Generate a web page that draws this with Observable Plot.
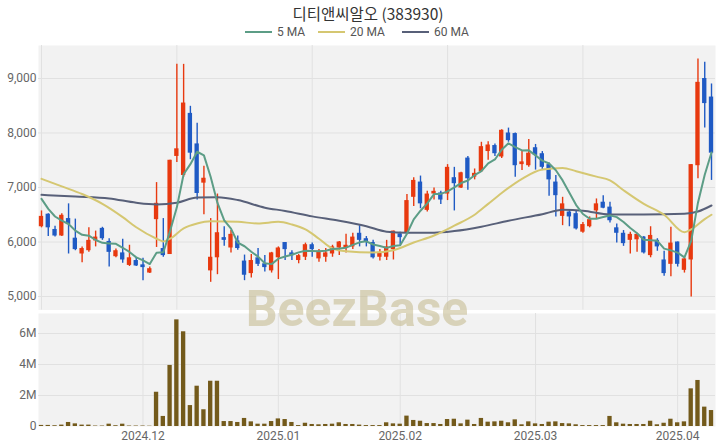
<!DOCTYPE html>
<html><head><meta charset="utf-8">
<script src="https://cdn.jsdelivr.net/npm/d3@7"></script>
<script src="https://cdn.jsdelivr.net/npm/@observablehq/plot@0.6"></script>
<style>
body{margin:0;background:#fff;}
#wrap{position:relative;width:720px;height:448px;overflow:hidden;font-family:Roboto,"Noto Sans CJK KR",sans-serif;}
#price,#vol,#over{position:absolute;left:0;}
#price{top:0;} #vol{top:312px;} #over{top:0;z-index:5;pointer-events:none;}
</style></head>
<body><div id="wrap"><div id="price"></div><div id="vol"></div><div id="over"></div></div>
<script>
const dates = [
"2024-11-11","2024-11-12","2024-11-13","2024-11-14","2024-11-15","2024-11-18","2024-11-19","2024-11-20","2024-11-21","2024-11-22","2024-11-25","2024-11-26","2024-11-27","2024-11-28","2024-11-29",
"2024-12-02","2024-12-03","2024-12-04","2024-12-05","2024-12-06","2024-12-09","2024-12-10","2024-12-11","2024-12-12","2024-12-13","2024-12-16","2024-12-17","2024-12-18","2024-12-19","2024-12-20","2024-12-23","2024-12-24","2024-12-26","2024-12-27","2024-12-30",
"2025-01-02","2025-01-03","2025-01-06","2025-01-07","2025-01-08","2025-01-09","2025-01-10","2025-01-13","2025-01-14","2025-01-15","2025-01-16","2025-01-17","2025-01-20","2025-01-21","2025-01-22","2025-01-23","2025-01-24","2025-01-31",
"2025-02-03","2025-02-04","2025-02-05","2025-02-06","2025-02-07","2025-02-10","2025-02-11","2025-02-12","2025-02-13","2025-02-14","2025-02-17","2025-02-18","2025-02-19","2025-02-20","2025-02-21","2025-02-24","2025-02-25","2025-02-26","2025-02-27","2025-02-28",
"2025-03-03","2025-03-04","2025-03-05","2025-03-06","2025-03-07","2025-03-10","2025-03-11","2025-03-12","2025-03-13","2025-03-14","2025-03-17","2025-03-18","2025-03-19","2025-03-20","2025-03-21","2025-03-24","2025-03-25","2025-03-26","2025-03-27","2025-03-28","2025-03-31",
"2025-04-01","2025-04-02","2025-04-03","2025-04-04","2025-04-07","2025-04-08"];

const open = [6280,6510,6230,6110,6430,6070,5780,5840,6020,6250,6010,5730,5800,5570,5660,5580,5430,6410,5880,5770,
7570,7220,8360,7800,7080,5470,5710,6080,5890,6020,5650,5420,5710,5600,5470,5710,5990,5800,5660,5720,
5950,5690,5720,5780,5890,5880,5910,6160,6060,5990,5720,5720,5860,6150,6160,6820,7100,6580,6880,6900,
6880,7180,6990,7540,7190,7290,7660,7770,7560,8000,7990,7420,7400,7730,7620,7420,7100,6470,6550,6520,
6180,6280,6570,6730,6640,6260,6160,6030,6040,6090,5750,6030,5670,5590,6000,5480,5670,7400,9000,8660];
const high = [6570,6520,6290,6520,6700,6420,5910,6260,6200,6270,6060,5870,6050,5940,5710,5700,5540,7090,6430,7500,
9260,9260,8490,8180,7390,6430,6880,6280,6210,6110,5760,5770,5880,5750,5810,5910,5990,5840,5770,5980,
5980,5860,5880,5940,6010,6140,6160,6300,6100,6030,5860,6030,6200,6180,6870,7180,7210,6930,6990,6930,
7420,7370,7280,7570,7340,7830,7840,7800,8060,8090,8000,7680,7880,7790,7660,7450,7220,6820,6590,6580,
6360,6460,6790,6850,6730,6330,6210,6180,6160,6100,6280,6060,5830,6270,6000,5730,7420,9360,9300,8900];
const low = [6260,6100,6090,6100,5780,5840,5620,5810,5910,6030,5540,5710,5610,5550,5550,5290,5420,5900,5720,5770,
7460,7190,7510,6770,6500,5260,5400,5920,5800,5850,5290,5340,5550,5450,5430,5310,5660,5660,5600,5660,
5720,5630,5630,5720,5750,5800,5860,5910,5910,5690,5650,5660,5670,5940,6150,6650,6610,6550,6770,6690,
6760,6570,6980,6950,7140,7280,7500,7570,7530,7830,7190,7310,7370,7320,7310,6840,6460,6300,6280,6220,
6160,6260,6430,6610,6350,5980,5920,5780,5810,5780,5710,5830,5370,5360,5540,5430,4990,7160,8090,7130];
const close = [6470,6260,6110,6490,6320,5860,5880,6030,6090,6060,5810,5840,5670,5710,5560,5530,5510,6710,5750,7500,
7710,8550,7630,6890,7170,5720,6170,6030,6140,5880,5390,5660,5590,5530,5800,5890,5860,5750,5750,5950,
5860,5830,5800,5910,6000,5940,6090,6030,6000,5710,5810,5910,6200,6080,6760,7130,6700,6880,6930,6770,
7370,7070,7270,7160,7260,7750,7780,7620,8050,7860,7400,7470,7630,7590,7370,7140,6850,6700,6460,6240,
6320,6410,6700,6620,6390,6160,5970,6140,6140,5800,6120,5910,5420,5980,5590,5690,7420,8930,8540,7630];
const volume = [0.07,0.07,0.05,0.09,0.26,0.17,0.09,0.09,0.03,0.03,0.15,0.05,0.15,0.03,0.03,0.03,0.02,2.21,0.65,3.94,
6.88,6.11,1.35,2.60,1.08,2.92,2.92,0.32,0.32,0.26,0.52,0.30,0.15,0.15,0.32,0.49,0.45,0.26,0.06,0.21,
0.13,0.11,0.13,0.15,0.24,0.13,0.13,0.09,0.06,0.06,0.06,0.24,0.17,0.15,0.67,0.39,0.34,0.19,0.19,0.13,
0.45,0.47,0.17,0.41,0.13,0.52,0.28,0.30,0.34,0.24,0.43,0.11,0.30,0.17,0.13,0.28,0.30,0.19,0.17,0.11,
0.06,0.06,0.06,0.06,0.65,0.24,0.15,0.13,0.13,0.13,0.34,0.11,0.21,0.47,0.24,0.30,2.43,2.97,1.25,1.03].map(v => v * 1e6);
// closes of the four sessions before the first date (for the 5-day average)
const prevClose = [7180, 6810, 6860, 6640];
// 20-day and 60-day moving averages at selected sessions
const ma20Idx = [0,3,6,9,12,14,17,18,19,21,23,25,29,32,35,37,39,41,43,45,49,52,55,58,61,64,66,68,71,74,77,79,82,84,86,89,92,95,96,98,99];
const ma20Val = [7160,7020,6880,6700,6456,6270,6060,6010,6060,6250,6340,6380,6370,6340,6370,6320,6230,6060,5880,5830,5805,5850,5990,6120,6300,6500,6700,6900,7160,7330,7360,7300,7200,7130,6950,6700,6500,6180,6230,6420,6500];
const ma60Idx = [0,5,10,14,17,20,23,26,29,33,36,40,44,48,51,54,58,61,65,69,74,77,80,84,89,95,97,99];
const ma60Val = [6865,6835,6800,6720,6690,6720,6815,6820,6770,6630,6570,6470,6390,6290,6190,6170,6170,6200,6280,6390,6510,6590,6575,6505,6505,6520,6560,6670];
const priceTicks = [5000,6000,7000,8000,9000];
const volTicks = [0,2e6,4e6,6e6];
const seriesNames = ["5 MA","20 MA","60 MA"];
const seriesColors = ["#5c9d86","#d5c771","#586079"];
const upColor = "#e8390f", downColor = "#1f5ac4", volColor = "#735a1b";

const rows = dates.map((d, i) => ({i, date: d, o: open[i], h: high[i], l: low[i], c: close[i], v: volume[i], up: close[i] >= open[i]}));
const allC = prevClose.concat(close);
const ma5 = close.map((_, i) => ({i, v: d3.mean(allC.slice(i, i + 5))}));
const ma20 = ma20Idx.map((i, k) => ({i, v: ma20Val[k]}));
const ma60 = ma60Idx.map((i, k) => ({i, v: ma60Val[k]}));
const monthIdx = dates.map((d, i) => i).filter(i => i > 0 && dates[i].slice(0, 7) !== dates[i - 1].slice(0, 7));
const monthFmt = i => dates[i].slice(0, 7).replace("-", ".");
const priceGridIdx = d3.range(0, dates.length, 20);

const xDomain = [-0.443, 99.59];
const hw = 0.32;
const gridStyle = {stroke: "#e1e1e1", strokeOpacity: 1, strokeWidth: 1};
const svgStyle = {fontFamily: "Roboto, sans-serif", fontSize: "12px", color: "#666", background: "transparent", overflow: "visible"};

const candleMarks = (data, col) => [
  Plot.ruleX(data, {x: "i", y1: "l", y2: "h", stroke: col, strokeWidth: 1.4}),
  Plot.rect(data, {x1: d => d.i - hw, x2: d => d.i + hw, y1: d => Math.min(d.o, d.c), y2: d => Math.max(d.o, d.c) + (Math.abs(d.o - d.c) < 20 ? 20 : 0), fill: col})
];

const price = Plot.plot({
  width: 720, height: 312, marginLeft: 38, marginRight: 5, marginTop: 45, marginBottom: 2.5,
  style: svgStyle,
  x: {type: "linear", domain: xDomain, axis: null, label: null},
  y: {domain: [4752, 9606], axis: null, label: null},
  marks: [
    Plot.frame({fill: "#f2f2f2", stroke: null}),
    Plot.gridY(priceTicks, gridStyle),
    Plot.gridX(priceGridIdx, gridStyle),
    Plot.axisY(priceTicks, {tickSize: 0, tickPadding: 2, tickFormat: d3.format(","), fontSize: 12, label: null}),
    ...candleMarks(rows.filter(d => d.up), upColor),
    ...candleMarks(rows.filter(d => !d.up), downColor),
    Plot.line(ma60, {x: "i", y: "v", stroke: seriesColors[2], strokeWidth: 2, curve: "monotone-x"}),
    Plot.line(ma20, {x: "i", y: "v", stroke: seriesColors[1], strokeWidth: 2, curve: "monotone-x"}),
    Plot.line(ma5, {x: "i", y: "v", stroke: seriesColors[0], strokeWidth: 2})
  ]
});
document.getElementById("price").append(price);

const vol = Plot.plot({
  width: 720, height: 136, marginLeft: 38, marginRight: 5, marginTop: 1, marginBottom: 22,
  style: svgStyle,
  x: {type: "linear", domain: xDomain, axis: null, label: null},
  y: {domain: [0, 7.29e6], axis: null, label: null},
  marks: [
    Plot.frame({fill: "#f2f2f2", stroke: null}),
    Plot.gridY(volTicks.slice(1), gridStyle),
    Plot.gridX(monthIdx, gridStyle),
    Plot.axisY(volTicks, {tickSize: 0, tickPadding: 2, tickFormat: d => d === 0 ? "0" : (d / 1e6) + "M", fontSize: 12, label: null}),
    Plot.axisX(monthIdx, {tickSize: 0, tickPadding: 5, tickFormat: monthFmt, fontSize: 12, label: null}),
    Plot.rect(rows, {x1: d => d.i - hw, x2: d => d.i + hw, y1: 0, y2: "v", fill: volColor})
  ]
});
document.getElementById("vol").append(vol);

// overlay: title, legend, watermark
const over = d3.select("#over").append("svg").attr("width", 720).attr("height", 448);
over.append("text").attr("x", 368).attr("y", 19.5).attr("text-anchor", "middle")
  .attr("font-family", "'Noto Sans CJK KR', sans-serif").attr("font-size", 15.5).attr("fill", "#333")
  .text("디티앤씨알오 (383930)");
const legX = [245, 318, 402];
seriesNames.forEach((name, k) => {
  over.append("line").attr("x1", legX[k]).attr("x2", legX[k] + 27).attr("y1", 32).attr("y2", 32)
    .attr("stroke", seriesColors[k]).attr("stroke-width", 2);
  over.append("text").attr("x", legX[k] + 32).attr("y", 36).attr("font-family", "Roboto, sans-serif")
    .attr("font-size", 12).attr("fill", "#555").text(name);
});
over.append("text").attr("x", 357).attr("y", 326).attr("text-anchor", "middle")
  .attr("font-family", "Roboto, sans-serif").attr("font-weight", "bold").attr("font-size", 50)
  .attr("fill", "rgb(195,184,138)").attr("fill-opacity", 0.55).text("BeezBase");
</script></body></html>
